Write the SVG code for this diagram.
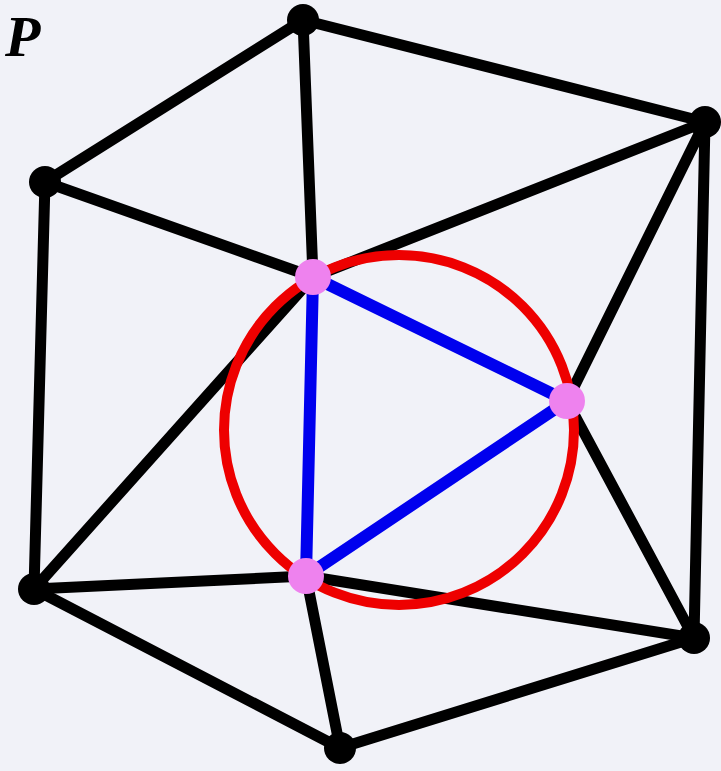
<svg xmlns="http://www.w3.org/2000/svg" width="721" height="771" viewBox="0 0 721 771">
<style>
.e{stroke:#000;stroke-width:11;stroke-linecap:round;fill:none}
.b{stroke:#0000ee;stroke-width:12;stroke-linecap:round;fill:none}
.n{fill:#000}
.p{fill:#ee82ee}
</style>
<rect width="721" height="771" fill="#f1f2f8"/>
<text x="5" y="56" font-family="Liberation Serif, serif" font-size="58" font-weight="bold" font-style="italic" fill="#000">P</text>
<g id="connectors">
<line class="e" x1="303" y1="20" x2="705" y2="122"/>
<line class="e" x1="303" y1="20" x2="45" y2="182"/>
<line class="e" x1="303" y1="20" x2="313" y2="277"/>
<line class="e" x1="45" y1="182" x2="313" y2="277"/>
<line class="e" x1="45" y1="182" x2="34" y2="589"/>
<line class="e" x1="313" y1="277" x2="705" y2="122"/>
<line class="e" x1="313" y1="277" x2="34" y2="589"/>
<line class="e" x1="705" y1="122" x2="567" y2="401"/>
<line class="e" x1="705" y1="122" x2="694" y2="638"/>
<line class="e" x1="567" y1="401" x2="694" y2="638"/>
<line class="e" x1="34" y1="589" x2="306" y2="576"/>
<line class="e" x1="34" y1="589" x2="340" y2="748"/>
<line class="e" x1="306" y1="576" x2="694" y2="638"/>
<line class="e" x1="306" y1="576" x2="340" y2="748"/>
<line class="e" x1="694" y1="638" x2="340" y2="748"/>
<circle cx="399" cy="430" r="175" fill="none" stroke="#ee0000" stroke-width="10"/>
<line class="b" x1="313" y1="277" x2="567" y2="401"/>
<line class="b" x1="567" y1="401" x2="306" y2="576"/>
<line class="b" x1="306" y1="576" x2="313" y2="277"/>
</g>
<g id="n1"><circle class="n" cx="303" cy="20" r="16"/></g>
<g id="n2"><circle class="n" cx="705" cy="122" r="16"/></g>
<g id="n3"><circle class="n" cx="45" cy="182" r="16"/></g>
<g id="n4"><circle class="n" cx="34" cy="589" r="16"/></g>
<g id="n5"><circle class="n" cx="694" cy="638" r="16"/></g>
<g id="n6"><circle class="n" cx="340" cy="748" r="16"/></g>
<g id="p1"><circle class="p" cx="313" cy="277" r="18"/></g>
<g id="p2"><circle class="p" cx="567" cy="401" r="18"/></g>
<g id="p3"><circle class="p" cx="306" cy="576" r="18"/></g>
</svg>
